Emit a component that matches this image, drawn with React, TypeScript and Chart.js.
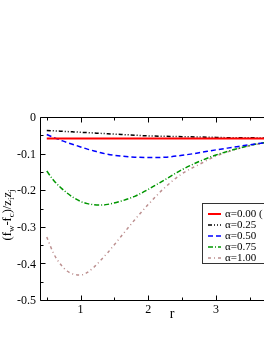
import React, { useEffect, useRef } from "react";
import { Chart, registerables } from "chart.js";

Chart.register(...registerables);

const rValues = [0.5, 0.6, 0.7, 0.8, 0.9, 1.0, 1.1, 1.2, 1.3, 1.4, 1.6, 1.8, 2.0, 2.25, 2.5, 2.75, 3.0, 3.25, 3.5, 3.75, 4.0, 4.3];

const alpha000 = [-0.056, -0.056, -0.056, -0.056, -0.056, -0.056, -0.056, -0.056, -0.056, -0.056, -0.056, -0.056, -0.056, -0.056, -0.056, -0.056, -0.056, -0.056, -0.056, -0.056, -0.056, -0.056];
const alpha025 = [-0.034, -0.035, -0.036, -0.037, -0.038, -0.039, -0.040, -0.041, -0.042, -0.043, -0.045, -0.047, -0.049, -0.050, -0.051, -0.052, -0.053, -0.054, -0.054, -0.055, -0.055, -0.056];
const alpha050 = [-0.045, -0.053, -0.060, -0.067, -0.073, -0.079, -0.085, -0.090, -0.095, -0.099, -0.104, -0.107, -0.108, -0.107, -0.102, -0.095, -0.087, -0.080, -0.073, -0.067, -0.063, -0.060];
const alpha075 = [-0.145, -0.170, -0.189, -0.205, -0.218, -0.228, -0.234, -0.237, -0.238, -0.236, -0.227, -0.214, -0.195, -0.168, -0.141, -0.119, -0.101, -0.087, -0.075, -0.066, -0.061, -0.058];
const alpha100 = [-0.325, -0.370, -0.399, -0.418, -0.427, -0.429, -0.422, -0.407, -0.388, -0.368, -0.323, -0.278, -0.236, -0.189, -0.152, -0.127, -0.104, -0.088, -0.076, -0.067, -0.062, -0.058];

const seriesLabels = ["α=0.00 (", "α=0.25", "α=0.50", "α=0.75", "α=1.00"];
const xTickValues = [1, 2, 3, 4];
const yTickValues = [-0.5, -0.4, -0.3, -0.2, -0.1, 0];
const xMinorValues = [0.5, 1.5, 2.5, 3.5];
const yMinorValues = [-0.45, -0.35, -0.25, -0.15, -0.05];

const FONT = "'Liberation Serif', 'Times New Roman', serif";

const styles = [
  { color: "#ff0000", dash: [] as number[], width: 2 },
  { color: "#000000", dash: [4, 2, 1, 2, 1, 2], width: 1.5 },
  { color: "#0000ff", dash: [5, 3], width: 1.5 },
  { color: "#009600", dash: [5, 2, 1, 2], width: 1.5 },
  { color: "#bc8f8f", dash: [3, 3, 1, 3], width: 1.5 },
];

const allSeries = [alpha000, alpha025, alpha050, alpha075, alpha100];

const framePlugin = {
  id: "frame",
  afterDraw(chart: any) {
    const { ctx, chartArea } = chart;
    const xs = chart.scales.x;
    const ys = chart.scales.y;
    const { left, right, top, bottom } = chartArea;
    ctx.save();
    ctx.strokeStyle = "#000";
    ctx.lineWidth = 1;
    ctx.setLineDash([]);
    ctx.beginPath();
    ctx.rect(Math.round(left) + 0.5, Math.round(top) - 0.5, Math.round(right) - Math.round(left), Math.round(bottom) - Math.round(top));
    ctx.stroke();
    // ticks
    ctx.beginPath();
    const bt = Math.round(bottom) - 0.5;
    const tp = Math.round(top) - 0.5;
    for (const v of xTickValues) {
      const px = Math.round(xs.getPixelForValue(v)) + 0.5;
      ctx.moveTo(px, bt); ctx.lineTo(px, bt - 5);
      ctx.moveTo(px, tp); ctx.lineTo(px, tp + 5);
    }
    for (const v of xMinorValues) {
      const px = Math.round(xs.getPixelForValue(v)) + 0.5;
      ctx.moveTo(px, bt); ctx.lineTo(px, bt - 3);
      ctx.moveTo(px, tp); ctx.lineTo(px, tp + 3);
    }
    const lf = Math.round(left) + 0.5;
    for (const v of yTickValues) {
      const py = Math.round(ys.getPixelForValue(v)) - 0.5;
      ctx.moveTo(lf, py); ctx.lineTo(lf + 5, py);
    }
    for (const v of yMinorValues) {
      const py = Math.round(ys.getPixelForValue(v)) - 0.5;
      ctx.moveTo(lf, py); ctx.lineTo(lf + 3, py);
    }
    ctx.stroke();

    // y axis label with subscripts
    ctx.save();
    ctx.translate(8, (top + bottom) / 2 + 5.5);
    ctx.rotate(-Math.PI / 2);
    const parts: [string, boolean][] = [["(f", false], ["w", true], ["-f", false], ["c", true], [")/z", false], ["i", true], ["z", false], ["j", true]];
    const big = `12.5px ${FONT}`;
    const small = `9px ${FONT}`;
    let total = 0;
    for (const [t, sub] of parts) {
      ctx.font = sub ? small : big;
      total += ctx.measureText(t).width;
    }
    let x = -total / 2;
    ctx.fillStyle = "#000";
    ctx.textBaseline = "middle";
    for (const [t, sub] of parts) {
      ctx.font = sub ? small : big;
      ctx.fillText(t, x, sub ? 4 : 0);
      x += ctx.measureText(t).width;
    }
    ctx.restore();

    // legend
    const lx = 202.5, ly = 203.5, lw = 120, lh = 60;
    ctx.fillStyle = "#fff";
    ctx.fillRect(lx, ly, lw, lh);
    ctx.strokeStyle = "#333";
    ctx.lineWidth = 1;
    ctx.strokeRect(lx, ly, lw, lh);
    ctx.font = `11px ${FONT}`;
    ctx.textBaseline = "middle";
    const rowY = [214, 225, 236, 247, 258];
    seriesLabels.forEach((lab, i) => {
      const st = styles[i];
      ctx.strokeStyle = st.color;
      ctx.lineWidth = st.width;
      ctx.setLineDash(st.dash);
      ctx.beginPath();
      ctx.moveTo(208, rowY[i]);
      ctx.lineTo(221, rowY[i]);
      ctx.stroke();
      ctx.setLineDash([]);
      ctx.fillStyle = "#000";
      ctx.fillText(lab, 225, rowY[i]);
    });
    ctx.restore();
  },
};

export default function App() {
  const ref = useRef<HTMLCanvasElement | null>(null);
  useEffect(() => {
    if (!ref.current) return;
    const chart = new Chart(ref.current, {
      type: "line",
      data: {
        datasets: allSeries.map((s, i) => ({
          label: seriesLabels[i],
          data: s.map((v, j) => ({ x: rValues[j], y: v })),
          borderColor: styles[i].color,
          borderWidth: styles[i].width,
          borderDash: styles[i].dash,
          pointRadius: 0,
          fill: false,
          cubicInterpolationMode: "monotone" as const,
        })),
      },
      options: {
        responsive: false,
        animation: false,
        devicePixelRatio: 1,
        layout: { padding: { top: 118, right: 16, bottom: 0, left: 0 } },
        plugins: { legend: { display: false }, tooltip: { enabled: false } },
        scales: {
          x: {
            type: "linear",
            min: 0.4,
            max: 4.3,
            grid: { display: false, drawTicks: false },
            border: { display: false },
            afterBuildTicks: (s: any) => { s.ticks = xTickValues.map((v) => ({ value: v })); },
            afterFit: (s: any) => { s.height = 40; },
            ticks: {
              padding: 2,
              color: "#000",
              font: { family: FONT, size: 12 },
              maxRotation: 0,
              callback: (v: any) => String(v),
            },
            title: {
              display: true,
              text: "r",
              color: "#000",
              font: { family: FONT, size: 14 },
              padding: { top: 0, bottom: 18 },
            },
          },
          y: {
            type: "linear",
            min: -0.5,
            max: 0,
            grid: { display: false, drawTicks: false },
            border: { display: false },
            afterBuildTicks: (s: any) => { s.ticks = yTickValues.map((v) => ({ value: v })); },
            afterFit: (s: any) => { s.width = 40; },
            ticks: {
              padding: 4,
              color: "#000",
              font: { family: FONT, size: 12 },
              callback: (v: any) => (Math.abs(Number(v)) < 1e-9 ? "0" : Number(v).toFixed(1)),
            },
          },
        },
      },
      plugins: [framePlugin],
    });
    return () => chart.destroy();
  }, []);
  return (
    <div style={{ position: "absolute", left: 0, top: 0, width: 264, height: 341, overflow: "hidden", background: "#fff" }}>
      <canvas ref={ref} width={320} height={341} style={{ width: 320, height: 341, display: "block" }} />
    </div>
  );
}
